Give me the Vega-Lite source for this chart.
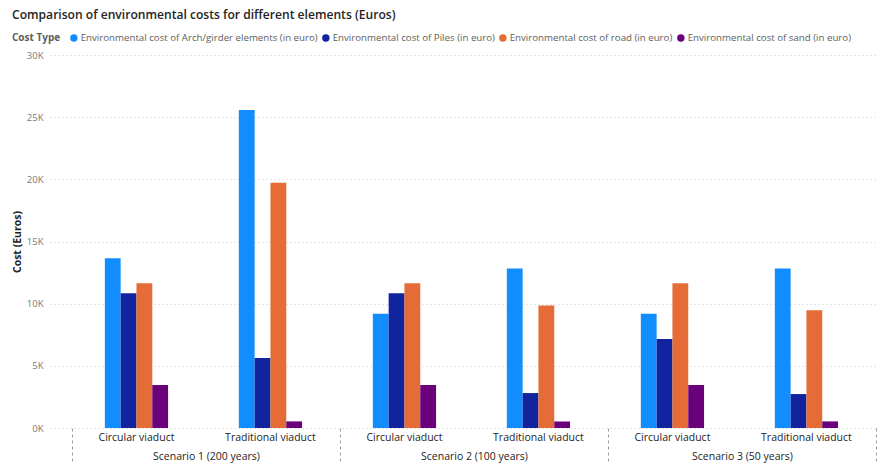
{
  "$schema": "https://vega.github.io/schema/vega-lite/v6.json",
  "width": 828,
  "height": 373,
  "autosize": {"type": "none"},
  "padding": {"left": 50, "top": 55, "right": 3, "bottom": 36},
  "background": "#ffffff",
  "config": {
    "font": "Open Sans",
    "view": {"stroke": null}
  },
  "title": {
    "text": "Comparison of environmental costs for different elements (Euros)",
    "anchor": "start",
    "frame": "group",
    "orient": "top",
    "dx": -38,
    "offset": 12,
    "font": "Open Sans",
    "fontSize": 12.1,
    "fontWeight": 600,
    "color": "#252423"
  },
  "layer": [
    {
      "data": {
        "values": [
          {"scenario": "Scenario 1 (200 years)", "viaduct": "Circular viaduct", "cost_type": "Environmental cost of Arch/girder elements (in euro)", "cost": 13650},
          {"scenario": "Scenario 1 (200 years)", "viaduct": "Circular viaduct", "cost_type": "Environmental cost of Piles (in euro)", "cost": 10840},
          {"scenario": "Scenario 1 (200 years)", "viaduct": "Circular viaduct", "cost_type": "Environmental cost of road (in euro)", "cost": 11650},
          {"scenario": "Scenario 1 (200 years)", "viaduct": "Circular viaduct", "cost_type": "Environmental cost of sand (in euro)", "cost": 3460},
          {"scenario": "Scenario 1 (200 years)", "viaduct": "Traditional viaduct", "cost_type": "Environmental cost of Arch/girder elements (in euro)", "cost": 25570},
          {"scenario": "Scenario 1 (200 years)", "viaduct": "Traditional viaduct", "cost_type": "Environmental cost of Piles (in euro)", "cost": 5620},
          {"scenario": "Scenario 1 (200 years)", "viaduct": "Traditional viaduct", "cost_type": "Environmental cost of road (in euro)", "cost": 19730},
          {"scenario": "Scenario 1 (200 years)", "viaduct": "Traditional viaduct", "cost_type": "Environmental cost of sand (in euro)", "cost": 530},
          {"scenario": "Scenario 2 (100 years)", "viaduct": "Circular viaduct", "cost_type": "Environmental cost of Arch/girder elements (in euro)", "cost": 9180},
          {"scenario": "Scenario 2 (100 years)", "viaduct": "Circular viaduct", "cost_type": "Environmental cost of Piles (in euro)", "cost": 10840},
          {"scenario": "Scenario 2 (100 years)", "viaduct": "Circular viaduct", "cost_type": "Environmental cost of road (in euro)", "cost": 11650},
          {"scenario": "Scenario 2 (100 years)", "viaduct": "Circular viaduct", "cost_type": "Environmental cost of sand (in euro)", "cost": 3460},
          {"scenario": "Scenario 2 (100 years)", "viaduct": "Traditional viaduct", "cost_type": "Environmental cost of Arch/girder elements (in euro)", "cost": 12820},
          {"scenario": "Scenario 2 (100 years)", "viaduct": "Traditional viaduct", "cost_type": "Environmental cost of Piles (in euro)", "cost": 2810},
          {"scenario": "Scenario 2 (100 years)", "viaduct": "Traditional viaduct", "cost_type": "Environmental cost of road (in euro)", "cost": 9850},
          {"scenario": "Scenario 2 (100 years)", "viaduct": "Traditional viaduct", "cost_type": "Environmental cost of sand (in euro)", "cost": 530},
          {"scenario": "Scenario 3 (50 years)", "viaduct": "Circular viaduct", "cost_type": "Environmental cost of Arch/girder elements (in euro)", "cost": 9180},
          {"scenario": "Scenario 3 (50 years)", "viaduct": "Circular viaduct", "cost_type": "Environmental cost of Piles (in euro)", "cost": 7150},
          {"scenario": "Scenario 3 (50 years)", "viaduct": "Circular viaduct", "cost_type": "Environmental cost of road (in euro)", "cost": 11650},
          {"scenario": "Scenario 3 (50 years)", "viaduct": "Circular viaduct", "cost_type": "Environmental cost of sand (in euro)", "cost": 3460},
          {"scenario": "Scenario 3 (50 years)", "viaduct": "Traditional viaduct", "cost_type": "Environmental cost of Arch/girder elements (in euro)", "cost": 12820},
          {"scenario": "Scenario 3 (50 years)", "viaduct": "Traditional viaduct", "cost_type": "Environmental cost of Piles (in euro)", "cost": 2730},
          {"scenario": "Scenario 3 (50 years)", "viaduct": "Traditional viaduct", "cost_type": "Environmental cost of road (in euro)", "cost": 9480},
          {"scenario": "Scenario 3 (50 years)", "viaduct": "Traditional viaduct", "cost_type": "Environmental cost of sand (in euro)", "cost": 530}
        ]
      },
      "transform": [
        {"calculate": "datum.scenario + '|' + datum.viaduct", "as": "slot"}
      ],
      "mark": {"type": "bar"},
      "encoding": {
        "x": {
          "field": "slot",
          "type": "nominal",
          "sort": null,
          "scale": {"paddingInner": 0.528, "paddingOuter": 0.3537, "align": 0.5786},
          "axis": {
            "title": null,
            "domain": false,
            "ticks": false,
            "grid": false,
            "labelAngle": 0,
            "labelPadding": 4,
            "labelFontSize": 10.5,
            "labelColor": "#252423",
            "labelExpr": "split(datum.label, '|')[1]"
          }
        },
        "xOffset": {
          "field": "cost_type",
          "type": "nominal",
          "scale": {
            "domain": [
              "Environmental cost of Arch/girder elements (in euro)",
              "Environmental cost of Piles (in euro)",
              "Environmental cost of road (in euro)",
              "Environmental cost of sand (in euro)"
            ],
            "paddingInner": 0,
            "paddingOuter": 0
          }
        },
        "y": {
          "field": "cost",
          "type": "quantitative",
          "scale": {"domain": [0, 30000], "nice": false},
          "axis": {
            "title": "Cost (Euros)",
            "titleFontSize": 10.5,
            "titleFontWeight": "bold",
            "titleColor": "#252423",
            "titlePadding": 4,
            "values": [0, 5000, 10000, 15000, 20000, 25000, 30000],
            "labelExpr": "datum.value / 1000 + 'K'",
            "labelFontSize": 9.5,
            "labelColor": "#777777",
            "labelPadding": 7,
            "domain": false,
            "ticks": false,
            "grid": true,
            "gridColor": "#c8c8c8",
            "gridDash": [1, 3],
            "gridWidth": 1
          }
        },
        "color": {
          "field": "cost_type",
          "type": "nominal",
          "scale": {
            "domain": [
              "Environmental cost of Arch/girder elements (in euro)",
              "Environmental cost of Piles (in euro)",
              "Environmental cost of road (in euro)",
              "Environmental cost of sand (in euro)"
            ],
            "range": ["#118DFF", "#12239E", "#E66C37", "#6B007B"]
          },
          "legend": {
            "title": "Cost Type",
            "orient": "none",
            "direction": "horizontal",
            "legendX": -38,
            "legendY": -22,
            "titleOrient": "left",
            "titleFontSize": 10,
            "titleFontWeight": "bold",
            "titleColor": "#605E5C",
            "titlePadding": 8,
            "labelFontSize": 9.7,
            "labelColor": "#605E5C",
            "labelLimit": 0,
            "labelOffset": 2,
            "symbolType": "circle",
            "symbolSize": 55,
            "symbolStrokeWidth": 0,
            "columnPadding": 3
          }
        }
      }
    },
    {
      "data": {
        "values": [
          {"scenario": "Scenario 1 (200 years)"},
          {"scenario": "Scenario 2 (100 years)"},
          {"scenario": "Scenario 3 (50 years)"}
        ]
      },
      "mark": {"type": "point", "opacity": 0},
      "encoding": {
        "x": {
          "field": "scenario",
          "type": "nominal",
          "sort": null,
          "scale": {"paddingInner": 0, "paddingOuter": 0.04478, "align": 0.9167},
          "axis": {
            "orient": "bottom",
            "title": null,
            "domain": false,
            "grid": false,
            "ticks": true,
            "tickBand": "extent",
            "tickSize": 36,
            "tickColor": "#9a9a9a",
            "tickDash": [3, 3],
            "tickWidth": 1,
            "labelAngle": 0,
            "labelPadding": -13,
            "labelFontSize": 10.5,
            "labelColor": "#252423"
          }
        }
      }
    }
  ],
  "resolve": {"scale": {"x": "independent"}}
}
